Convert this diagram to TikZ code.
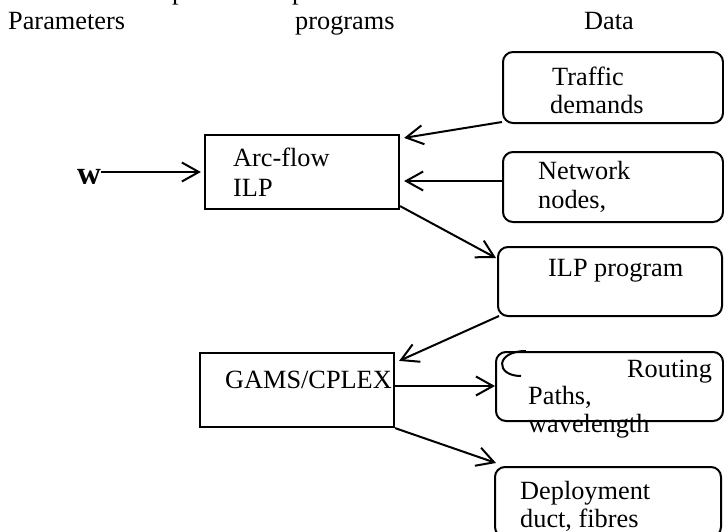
\documentclass[tikz,border=0pt]{standalone}
\usepackage{fontspec}
\setmainfont{Liberation Serif}
\usetikzlibrary{arrows.meta,calc}
\begin{document}
\begin{tikzpicture}[x=1pt,y=-1pt,
  txt/.style={font=\fontsize{26.3}{28.4}\selectfont, inner sep=0pt, anchor=base west},
  sqbox/.style={draw, line width=2.2pt, inner sep=0pt},
  rbox/.style={draw, line width=2pt, rounded corners=10pt, inner sep=0pt},
  arr/.style={line width=2pt, -{Straight Barb[length=17pt,width=19pt,line width=2pt]}}]
\useasboundingbox (0,0) rectangle (724,531);

% cut-off fragments of a line above
\node[txt] (frag1) at (172,-1) {p};
\node[txt] (frag2) at (292,-1) {p};

% column headings
\node[txt] (hpar) at (8,29) {Parameters};
\node[txt] (hprog) at (295,29) {programs};
\node[txt] (hdata) at (584,29) {Data};

% boxes
\node[rbox, minimum width=220pt, minimum height=71pt] (traffic) at (613,87.5) {};
\node[rbox, minimum width=220pt, minimum height=70pt] (network) at (613,187) {};
\node[sqbox, minimum width=194pt, minimum height=74pt] (arc) at (302,172) {};
\node[rbox, minimum width=224pt, minimum height=69pt] (ilp) at (610,281.5) {};
\node[sqbox, minimum width=194pt, minimum height=74pt] (gams) at (297,390) {};
\node[rbox, minimum width=227pt, minimum height=69pt] (routing) at (609.5,386.5) {};
\node[rbox, minimum width=226pt, minimum height=70pt] (deploy) at (608,502) {};

% box texts
\node[txt] (t1) at (552,85) {Traffic};
\node[txt] (t2) at (550,113) {demands};
\node[txt] (n1) at (538,179) {Network};
\node[txt] (n2) at (538,208) {nodes,};
\node[txt] (a1) at (233,166) {Arc-flow};
\node[txt] (a2) at (233,196) {ILP};
\node[txt] (i1) at (548,276) {ILP program};
\node[txt] (g1) at (225,388) {GAMS/CPLEX};
\node[txt] (r1) at (627,377) {Routing};
\node[txt] (r2) at (528,404) {Paths,};
\node[txt] (r3) at (528,432) {wavelength};
\node[txt] (d1) at (520,499) {Deployment};
\node[txt] (d2) at (520,527) {duct, fibres};

% small curve in the routing box
\draw[line width=2pt] ($(routing.north west)+(31,0)$) .. controls ($(routing.north west)+(0,0)$) and ($(routing.north west)+(0,25)$) .. ($(routing.north west)+(26,25)$);

% parameter w (clipped at the bottom)
\begin{scope}
  \clip (60,150) rectangle (120,183);
  \node[inner sep=0pt, anchor=base west, font=\fontsize{33}{36}\selectfont\bfseries] (w) at (77,184) {w};
\end{scope}

% connectors
\draw[arr, shorten >=3pt] (w.east |- arc.west) -- (arc.west);
\draw[arr] ($(traffic.south west)+(0,-2)$) -- ($(arc.north east)+(4,4)$);
\draw[arr] ($(network.west)+(0,-6)$) -- ($(arc.east)+(4,9)$);
\draw[arr] ($(arc.south east)+(0,-4)$) -- ($(ilp.north west)+(-1,12)$);
\draw[arr] ($(ilp.south west)+(2,-1)$) -- ($(gams.north east)+(4,9)$);
\draw[arr] ($(gams.east)+(0,-4)$) -- ($(routing.west)+(0,-0.5)$);
\draw[arr] (gams.south east) -- ($(deploy.north west)+(2,-3)$);
\end{tikzpicture}
\end{document}
